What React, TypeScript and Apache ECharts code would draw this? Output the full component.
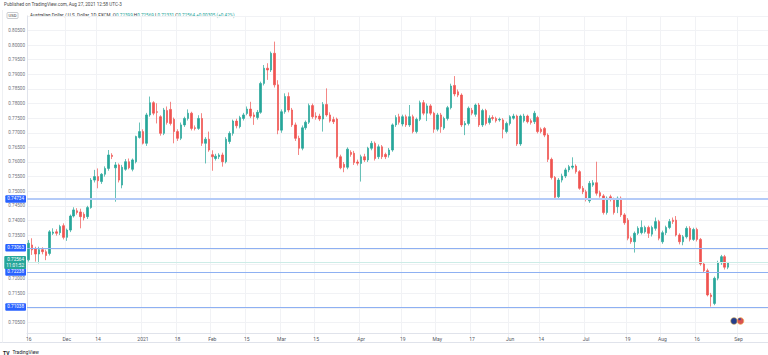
import React, { useEffect, useRef } from "react";
import * as echarts from "echarts";

const FONT = "Roboto, 'Liberation Sans', sans-serif";
const SLOT_COUNT = 214;
const HOLIDAYS = ["2020-12-25", "2021-01-01"];

const tickDates = [
  "2020-11-16", "2020-12-01", "2020-12-14", "2021-01-04", "2021-01-18",
  "2021-02-01", "2021-02-15", "2021-03-01", "2021-03-15", "2021-04-01",
  "2021-04-19", "2021-05-03", "2021-05-17", "2021-06-01", "2021-06-14",
  "2021-07-01", "2021-07-19", "2021-08-02", "2021-08-16", "2021-09-01",
];
const tickLabels = [
  "16", "Dec", "14", "2021", "18", "Feb", "15", "Mar", "15", "Apr",
  "19", "May", "17", "Jun", "14", "Jul", "19", "Aug", "16", "Sep",
];

const opens = [
  0.7265, 0.7316, 0.7304, 0.7285, 0.7300, 0.7293, 0.7287, 0.7356, 0.7361, 0.7358,
  0.7382, 0.7342, 0.7367, 0.7415, 0.7433, 0.7429, 0.7421, 0.7413, 0.7444, 0.7538,
  0.7550, 0.7533, 0.7558, 0.7578, 0.7623, 0.7580, 0.7590, 0.7521, 0.7575, 0.7601,
  0.7575, 0.7601, 0.7684, 0.7704, 0.7664, 0.7761, 0.7803, 0.7772, 0.7755, 0.7698,
  0.7776, 0.7780, 0.7746, 0.7704, 0.7681, 0.7727, 0.7749, 0.7767, 0.7717, 0.7715,
  0.7749, 0.7664, 0.7678, 0.7625, 0.7612, 0.7618, 0.7624, 0.7601, 0.7670, 0.7698,
  0.7740, 0.7721, 0.7749, 0.7766, 0.7781, 0.7761, 0.7752, 0.7770, 0.7869, 0.7921,
  0.7915, 0.7972, 0.7864, 0.7709, 0.7772, 0.7824, 0.7778, 0.7727, 0.7681, 0.7647,
  0.7717, 0.7736, 0.7793, 0.7757, 0.7757, 0.7747, 0.7797, 0.7761, 0.7745, 0.7747,
  0.7618, 0.7592, 0.7582, 0.7633, 0.7630, 0.7600, 0.7595, 0.7618, 0.7607, 0.7647,
  0.7664, 0.7618, 0.7652, 0.7626, 0.7624, 0.7641, 0.7727, 0.7755, 0.7730, 0.7755,
  0.7727, 0.7755, 0.7704, 0.7746, 0.7803, 0.7767, 0.7792, 0.7767, 0.7712, 0.7761,
  0.7716, 0.7749, 0.7786, 0.7862, 0.7840, 0.7829, 0.7727, 0.7732, 0.7777, 0.7763,
  0.7795, 0.7727, 0.7776, 0.7735, 0.7752, 0.7749, 0.7744, 0.7744, 0.7704, 0.7732,
  0.7750, 0.7757, 0.7662, 0.7741, 0.7757, 0.7741, 0.7738, 0.7752, 0.7712, 0.7715,
  0.7692, 0.7609, 0.7547, 0.7481, 0.7538, 0.7552, 0.7573, 0.7582, 0.7586, 0.7567,
  0.7510, 0.7498, 0.7467, 0.7521, 0.7529, 0.7495, 0.7484, 0.7427, 0.7481, 0.7472,
  0.7447, 0.7476, 0.7419, 0.7401, 0.7339, 0.7327, 0.7356, 0.7358, 0.7361, 0.7376,
  0.7353, 0.7373, 0.7396, 0.7327, 0.7358, 0.7376, 0.7401, 0.7401, 0.7350, 0.7327,
  0.7344, 0.7373, 0.7335, 0.7369, 0.7335, 0.7251, 0.7228, 0.7145, 0.7116, 0.7202,
  0.7255, 0.7276, 0.72399,
];
const highs = [
  0.7333, 0.7339, 0.7310, 0.7310, 0.7308, 0.7300, 0.7367, 0.7373, 0.7370, 0.7385,
  0.7390, 0.7372, 0.7420, 0.7445, 0.7442, 0.7440, 0.7428, 0.7450, 0.7545, 0.7573,
  0.7578, 0.7562, 0.7585, 0.7641, 0.7630, 0.7600, 0.7595, 0.7590, 0.7610, 0.7612,
  0.7612, 0.7690, 0.7735, 0.7712, 0.7768, 0.7824, 0.7808, 0.7801, 0.7760, 0.7785,
  0.7790, 0.7806, 0.7752, 0.7712, 0.7735, 0.7755, 0.7780, 0.7772, 0.7725, 0.7760,
  0.7767, 0.7685, 0.7704, 0.7640, 0.7628, 0.7630, 0.7632, 0.7685, 0.7705, 0.7745,
  0.7748, 0.7758, 0.7768, 0.7790, 0.7806, 0.7770, 0.7778, 0.7875, 0.7932, 0.7938,
  0.7978, 0.8012, 0.7880, 0.7780, 0.7835, 0.7838, 0.7785, 0.7735, 0.7690, 0.7725,
  0.7742, 0.7800, 0.7800, 0.7770, 0.7765, 0.7805, 0.7852, 0.7770, 0.7755, 0.7752,
  0.7625, 0.7600, 0.7650, 0.7640, 0.7638, 0.7608, 0.7625, 0.7628, 0.7652, 0.7672,
  0.7670, 0.7660, 0.7658, 0.7632, 0.7648, 0.7732, 0.7760, 0.7765, 0.7762, 0.7762,
  0.7795, 0.7762, 0.7752, 0.7810, 0.7812, 0.7800, 0.7798, 0.7772, 0.7768, 0.7768,
  0.7755, 0.7792, 0.7868, 0.7894, 0.7848, 0.7835, 0.7740, 0.7790, 0.7785, 0.7800,
  0.7802, 0.7782, 0.7782, 0.7760, 0.7760, 0.7755, 0.7752, 0.7750, 0.7738, 0.7760,
  0.7765, 0.7762, 0.7762, 0.7765, 0.7762, 0.7748, 0.7775, 0.7758, 0.7718, 0.7720,
  0.7698, 0.7615, 0.7552, 0.7545, 0.7560, 0.7580, 0.7590, 0.7616, 0.7592, 0.7572,
  0.7518, 0.7505, 0.7535, 0.7538, 0.7601, 0.7502, 0.7490, 0.7482, 0.7488, 0.7478,
  0.7482, 0.7482, 0.7425, 0.7408, 0.7345, 0.7362, 0.7380, 0.7400, 0.7382, 0.7382,
  0.7382, 0.7410, 0.7402, 0.7365, 0.7382, 0.7405, 0.7410, 0.7415, 0.7356, 0.7350,
  0.7380, 0.7380, 0.7375, 0.7375, 0.7340, 0.7258, 0.7235, 0.7152, 0.7208, 0.7262,
  0.7282, 0.7282, 0.72569,
];
const lows = [
  0.7259, 0.7282, 0.7259, 0.7253, 0.7284, 0.7264, 0.7280, 0.7350, 0.7348, 0.7350,
  0.7335, 0.7330, 0.7360, 0.7410, 0.7420, 0.7373, 0.7400, 0.7405, 0.7440, 0.7530,
  0.7510, 0.7525, 0.7550, 0.7570, 0.7610, 0.7464, 0.7530, 0.7510, 0.7570, 0.7575,
  0.7568, 0.7595, 0.7680, 0.7660, 0.7655, 0.7755, 0.7760, 0.7732, 0.7690, 0.7692,
  0.7728, 0.7725, 0.7664, 0.7672, 0.7675, 0.7720, 0.7742, 0.7708, 0.7708, 0.7710,
  0.7655, 0.7595, 0.7635, 0.7570, 0.7605, 0.7610, 0.7584, 0.7595, 0.7662, 0.7690,
  0.7715, 0.7715, 0.7742, 0.7760, 0.7750, 0.7727, 0.7745, 0.7765, 0.7862, 0.7881,
  0.7908, 0.7855, 0.7695, 0.7700, 0.7765, 0.7770, 0.7720, 0.7672, 0.7624, 0.7640,
  0.7710, 0.7730, 0.7748, 0.7745, 0.7740, 0.7704, 0.7755, 0.7735, 0.7730, 0.7612,
  0.7575, 0.7565, 0.7575, 0.7618, 0.7590, 0.7588, 0.7533, 0.7600, 0.7600, 0.7640,
  0.7605, 0.7610, 0.7610, 0.7610, 0.7615, 0.7635, 0.7720, 0.7728, 0.7722, 0.7720,
  0.7720, 0.7698, 0.7698, 0.7740, 0.7760, 0.7740, 0.7760, 0.7700, 0.7705, 0.7700,
  0.7710, 0.7742, 0.7780, 0.7825, 0.7822, 0.7720, 0.7692, 0.7725, 0.7760, 0.7755,
  0.7720, 0.7720, 0.7725, 0.7728, 0.7742, 0.7735, 0.7738, 0.7681, 0.7698, 0.7725,
  0.7745, 0.7655, 0.7655, 0.7735, 0.7732, 0.7728, 0.7730, 0.7698, 0.7698, 0.7685,
  0.7600, 0.7540, 0.7470, 0.7475, 0.7530, 0.7545, 0.7565, 0.7575, 0.7560, 0.7505,
  0.7490, 0.7465, 0.7460, 0.7515, 0.7485, 0.7478, 0.7420, 0.7420, 0.7465, 0.7420,
  0.7425, 0.7412, 0.7385, 0.7332, 0.7320, 0.7290, 0.7350, 0.7352, 0.7355, 0.7340,
  0.7345, 0.7365, 0.7332, 0.7320, 0.7350, 0.7370, 0.7388, 0.7345, 0.7318, 0.7315,
  0.7338, 0.7328, 0.7330, 0.7328, 0.7245, 0.7220, 0.7140, 0.7105, 0.7110, 0.7195,
  0.7248, 0.7232, 0.72331,
];
const closes = [
  0.7322, 0.7299, 0.7285, 0.7300, 0.7293, 0.7280, 0.7361, 0.7360, 0.7356, 0.7379,
  0.7342, 0.7367, 0.7415, 0.7436, 0.7427, 0.7413, 0.7409, 0.7444, 0.7538, 0.7550,
  0.7536, 0.7558, 0.7578, 0.7624, 0.7619, 0.7590, 0.7538, 0.7582, 0.7601, 0.7580,
  0.7607, 0.7687, 0.7704, 0.7664, 0.7761, 0.7803, 0.7767, 0.7770, 0.7698, 0.7778,
  0.7735, 0.7732, 0.7704, 0.7681, 0.7727, 0.7749, 0.7767, 0.7715, 0.7715, 0.7749,
  0.7664, 0.7678, 0.7641, 0.7618, 0.7620, 0.7624, 0.7601, 0.7678, 0.7698, 0.7740,
  0.7724, 0.7752, 0.7761, 0.7781, 0.7757, 0.7755, 0.7770, 0.7869, 0.7921, 0.7915,
  0.7972, 0.7864, 0.7709, 0.7772, 0.7824, 0.7778, 0.7727, 0.7681, 0.7647, 0.7717,
  0.7736, 0.7793, 0.7755, 0.7753, 0.7747, 0.7797, 0.7761, 0.7740, 0.7738, 0.7618,
  0.7580, 0.7582, 0.7644, 0.7626, 0.7598, 0.7596, 0.7618, 0.7607, 0.7647, 0.7664,
  0.7612, 0.7652, 0.7618, 0.7618, 0.7641, 0.7727, 0.7752, 0.7736, 0.7755, 0.7727,
  0.7755, 0.7704, 0.7746, 0.7803, 0.7767, 0.7792, 0.7767, 0.7712, 0.7761, 0.7721,
  0.7749, 0.7786, 0.7860, 0.7833, 0.7829, 0.7727, 0.7732, 0.7784, 0.7767, 0.7795,
  0.7727, 0.7776, 0.7732, 0.7750, 0.7749, 0.7741, 0.7746, 0.7712, 0.7732, 0.7755,
  0.7757, 0.7662, 0.7757, 0.7757, 0.7738, 0.7735, 0.7767, 0.7704, 0.7704, 0.7692,
  0.7609, 0.7547, 0.7479, 0.7538, 0.7552, 0.7573, 0.7584, 0.7586, 0.7567, 0.7510,
  0.7498, 0.7476, 0.7527, 0.7529, 0.7493, 0.7484, 0.7427, 0.7476, 0.7472, 0.7427,
  0.7476, 0.7419, 0.7392, 0.7339, 0.7327, 0.7356, 0.7373, 0.7376, 0.7376, 0.7356,
  0.7376, 0.7396, 0.7339, 0.7358, 0.7376, 0.7396, 0.7396, 0.7350, 0.7327, 0.7344,
  0.7373, 0.7335, 0.7369, 0.7335, 0.7251, 0.7228, 0.7145, 0.7139, 0.7202, 0.7255,
  0.7276, 0.7240, 0.72564,
];

const levelLines = [0.74734, 0.73063, 0.72238, 0.71038];
const lastPrice = 0.72564;
const countdown = "11:01:52";
const headerText = "Published on TradingView.com, Aug 27, 2021 12:58 UTC-3";
const symbolText = "Australian Dollar / U.S. Dollar, 1D, FXCM";
const ohlcText = ["0.72399", "0.72569", "0.72331", "0.72564"];
const changeText = "+0.00305 (+0.42%)";

function buildDates(): string[] {
  const out: string[] = [];
  const d = new Date(Date.UTC(2020, 10, 16));
  while (out.length < SLOT_COUNT) {
    const day = d.getUTCDay();
    const s = d.toISOString().slice(0, 10);
    if (day !== 0 && day !== 6 && !HOLIDAYS.includes(s)) out.push(s);
    d.setUTCDate(d.getUTCDate() + 1);
  }
  return out;
}

export default function App() {
  const ref = useRef<HTMLDivElement>(null);

  useEffect(() => {
    if (!ref.current) return;
    const chart = echarts.init(ref.current, undefined, { renderer: "svg" });
    const dates = buildDates();
    const candles = closes.map((c, i) => [opens[i], c, lows[i], highs[i]]);
    const showTick = (_idx: number, val: string) => tickDates.includes(val);
    const covered = [...levelLines, lastPrice];

    const baseLabel = {
      show: true,
      position: "start",
      distance: 1,
      color: "#ffffff",
      fontSize: 4.6,
      fontFamily: FONT,
      padding: [1, 2, 1, 2],
      borderRadius: 1,
      lineHeight: 5.5,
    };

    const markData: any[] = levelLines.map((v, i) => ({
      yAxis: v,
      lineStyle: {
        color: i === 0 ? "#b4cbf8" : "#8eb0f2",
        width: i === 0 ? 2 : 1,
        type: "solid",
      },
      label: {
        ...baseLabel,
        backgroundColor: "#2962ff",
        formatter: () => v.toFixed(5),
      },
    }));
    markData.push({
      yAxis: lastPrice,
      lineStyle: { color: "#cdece7", width: 1, type: "solid" },
      label: {
        ...baseLabel,
        backgroundColor: "#26a69a",
        formatter: () => lastPrice.toFixed(5) + "\n" + countdown,
      },
    });

    chart.setOption({
      animation: false,
      backgroundColor: "#ffffff",
      grid: { left: 27, right: 0, top: 15.9, height: 321.4 },
      xAxis: {
        type: "category",
        data: dates,
        boundaryGap: true,
        offset: -4,
        axisLine: { show: true, lineStyle: { color: "#e0e3eb", width: 1 } },
        axisTick: { show: false },
        axisLabel: {
          interval: showTick,
          formatter: (val: string) => {
            const k = tickDates.indexOf(val);
            return k >= 0 ? tickLabels[k] : "";
          },
          fontSize: 5,
          color: "#55585f",
          margin: 3,
          fontFamily: FONT,
        },
        splitLine: {
          show: true,
          interval: showTick,
          lineStyle: { color: "#f1f2f5", width: 1 },
        },
      },
      yAxis: {
        type: "value",
        position: "left",
        min: 0.7,
        max: 0.81,
        interval: 0.005,
        axisLine: { show: true, lineStyle: { color: "#e0e3eb", width: 1 } },
        axisTick: { show: false },
        axisLabel: {
          fontSize: 4.6,
          color: "#6f727b",
          margin: 2,
          fontFamily: FONT,
          showMinLabel: false,
          showMaxLabel: false,
          formatter: (v: number) =>
            covered.some((c) => Math.abs(c - v) < 0.0019) ? "" : v.toFixed(5),
        },
        splitLine: {
          show: true,
          showMinLine: false,
          lineStyle: { color: "#f1f2f5", width: 1 },
        },
      },
      series: [
        {
          type: "candlestick",
          data: candles,
          barWidth: 2,
          itemStyle: {
            color: "#26a69a",
            color0: "#ef5350",
            borderColor: "#26a69a",
            borderColor0: "#ef5350",
            borderWidth: 0.7,
          },
          markLine: {
            symbol: "none",
            silent: true,
            animation: false,
            precision: 5,
            data: markData,
          },
        },
      ],
      graphic: [
        {
          type: "text",
          left: 4,
          top: 2,
          style: { text: headerText, fontSize: 4.6, fill: "#4a4a4a", fontFamily: FONT },
        },
        {
          type: "rect",
          shape: { x: 7, y: 12.5, width: 11, height: 6, r: 1 },
          style: { fill: "#ffffff", stroke: "#9598a1", lineWidth: 0.5 },
          z: 100,
        },
        {
          type: "text",
          x: 12.5,
          y: 15.6,
          style: {
            text: "USD",
            fontSize: 4.2,
            fill: "#333",
            align: "center",
            verticalAlign: "middle",
            fontFamily: FONT,
          },
          z: 101,
        },
        {
          type: "text",
          x: 30,
          y: 15.6,
          style: {
            text:
              `{t|${symbolText}}  {l|O}{v|${ohlcText[0]}} {l|H}{v|${ohlcText[1]}} ` +
              `{l|L}{v|${ohlcText[2]}} {l|C}{v|${ohlcText[3]}} {v|${changeText}}`,
            verticalAlign: "middle",
            fontFamily: FONT,
            fontSize: 4.6,
            rich: {
              t: { fontSize: 4.6, fill: "#333", fontFamily: FONT },
              l: { fontSize: 4.6, fill: "#333", fontFamily: FONT },
              v: { fontSize: 4.6, fill: "#26a69a", fontFamily: FONT },
            },
          },
        },
        {
          type: "line",
          shape: { x1: 0, y1: 342.5, x2: 768, y2: 342.5 },
          style: { stroke: "#e0e3eb", lineWidth: 1 },
        },
        {
          type: "line",
          shape: { x1: 2.5, y1: 10, x2: 2.5, y2: 342.5 },
          style: { stroke: "#eef0f3", lineWidth: 1 },
        },
        {
          type: "text",
          left: 3,
          top: 346.5,
          style: {
            text: "{b|TV} {n|TradingView}",
            fontFamily: FONT,
            rich: {
              b: { fontSize: 5, fontWeight: "bold", fill: "#131722", fontFamily: FONT },
              n: { fontSize: 4.8, fill: "#131722", fontFamily: FONT },
            },
          },
        },
        {
          type: "circle",
          shape: { cx: 734, cy: 321, r: 3.4 },
          style: { fill: "#233e8b", stroke: "#f0c060", lineWidth: 0.6 },
          z: 50,
        },
        {
          type: "circle",
          shape: { cx: 740.5, cy: 321, r: 3.4 },
          style: { fill: "#d9534f", stroke: "#f0c060", lineWidth: 0.6 },
          z: 51,
        },
        {
          type: "rect",
          shape: { x: 738.5, y: 318.2, width: 2.2, height: 2 },
          style: { fill: "#2b4a9c" },
          z: 52,
        },
      ],
    });

    return () => chart.dispose();
  }, []);

  return (
    <div
      ref={ref}
      style={{ position: "fixed", left: 0, top: 0, width: 768, height: 355, background: "#fff" }}
    />
  );
}
